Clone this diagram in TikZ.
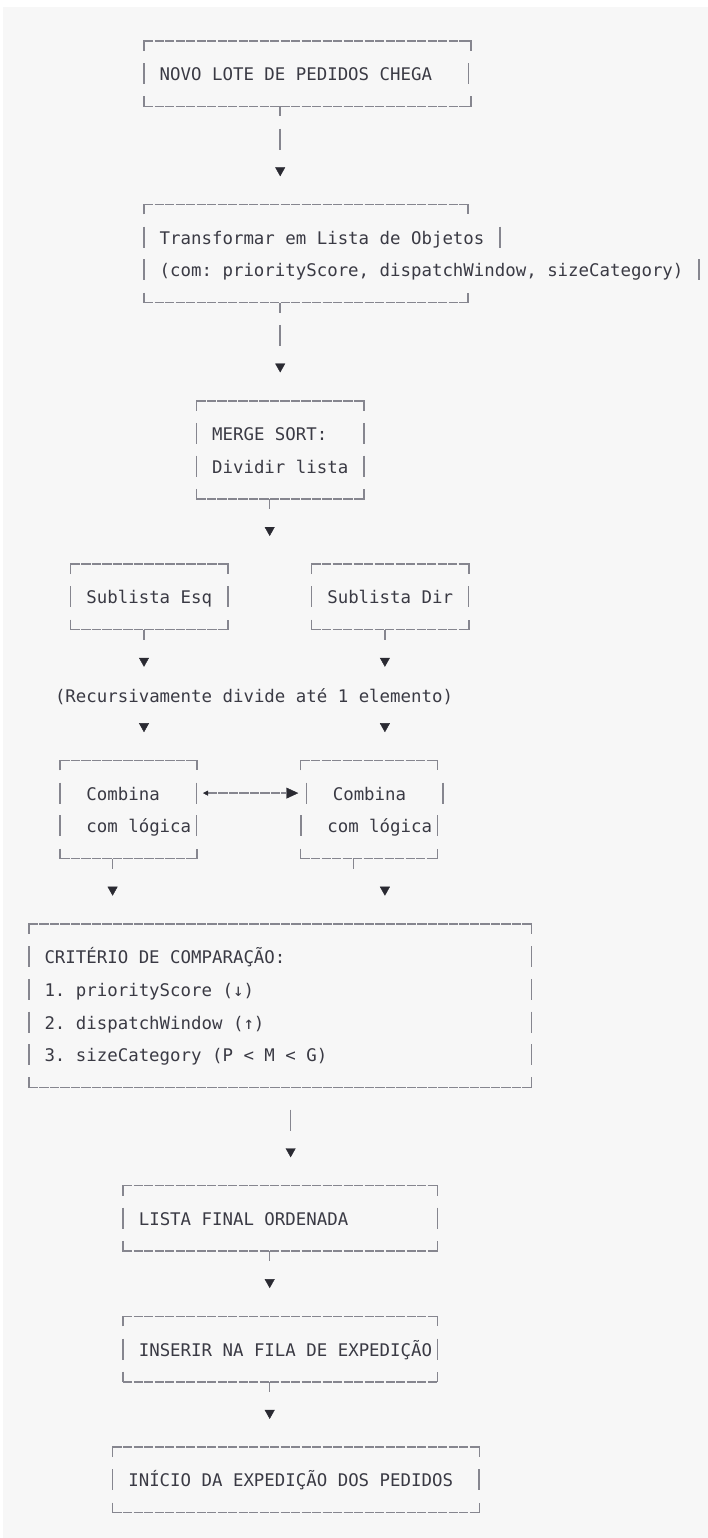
\documentclass[tikz,border=0pt]{standalone}
\usepackage{fontspec}
\setmonofont{DejaVu Sans Mono}
\usetikzlibrary{arrows.meta,fit}
\definecolor{bg}{HTML}{F7F7F7}
\definecolor{linec}{HTML}{86868F}
\definecolor{txtc}{HTML}{3A3A44}
\definecolor{tipc}{HTML}{2A2A32}
\newcommand\rowy[1]{41+32.7*#1}
\tikzset{
  frame/.style={inner sep=0pt, outer sep=0pt},
  txt/.style={anchor=west, inner sep=0pt, outer sep=0pt, text height=17pt, text depth=3pt,
    font=\ttfamily\fontsize{17.4pt}{20pt}\selectfont, text=txtc},
  hline/.style={draw=linec, line width=1.6pt, dash pattern=on 9.3pt off 1.2pt},
  vline/.style={draw=linec, line width=1.5pt},
  conn/.style={draw=linec, line width=1.5pt,
    arrows={-Triangle[length=9pt,width=10pt,line width=0.4pt,color=tipc,fill=tipc]},
    shorten >=28.2pt},
  tickbar/.style={dash pattern=on 10pt off 12.2pt on 21pt off 1000pt},
  tickonly/.style={dash pattern=on 10pt off 1000pt},
  baronly/.style={dash pattern=on 0pt off 22.2pt on 21pt off 1000pt},
  noline/.style={dash pattern=on 0pt off 1000pt},
  dbl/.style={draw=linec, line width=1.5pt, dash pattern=on 9.3pt off 1.2pt,
    arrows={Triangle[length=5pt,width=5pt,line width=0.4pt,color=tipc,fill=tipc]-Triangle[length=12pt,width=11pt,line width=0.4pt,color=tipc,fill=tipc]},
    shorten <=6pt, shorten >=2.2pt},
}
\newcommand\asciibox[1]{%
  \draw[hline] (#1.north west) -- (#1.north east);
  \draw[hline] (#1.south west) -- (#1.south east);
  \draw[vline] ([yshift=-10pt]#1.north west) -- (#1.north west) -- ([xshift=5pt]#1.north west);
  \draw[vline] ([xshift=-5pt]#1.north east) -- (#1.north east) -- ([yshift=-10pt]#1.north east);
  \draw[vline] ([yshift=10pt]#1.south west) -- (#1.south west) -- ([xshift=5pt]#1.south west);
  \draw[vline] ([xshift=-5pt]#1.south east) -- (#1.south east) -- ([yshift=10pt]#1.south east);
}
\newcommand\vb[2]{\draw[vline] (#1,\rowy{#2}) ++(0,-10.5) -- ++(0,21);}
\begin{document}
\begin{tikzpicture}[x=1pt,y=-1pt]
\useasboundingbox (0,0) rectangle (708,1538);
\fill[white] (0,0) rectangle (708,1538);
\fill[bg] (3,7) rectangle (708,1538);

% column positions of connectors
\coordinate (colA) at (280.2,0);
\coordinate (colB) at (269.7,0);
\coordinate (colC) at (290.65,0);
\coordinate (colL) at (144,0);
\coordinate (colR) at (384.9,0);
\coordinate (colE) at (112.6,0);
\coordinate (colT) at (353.5,0);
\coordinate (split) at (269.7,\rowy{16});

% box frames
\node[frame, fit={(144,\rowy{0}) (471,\rowy{2})}] (b1) {};
\node[frame, fit={(144,\rowy{5}) (468,\rowy{8})}] (b2) {};
\node[frame, fit={(196.4,\rowy{11}) (364,\rowy{14})}] (b3) {};
\node[frame, fit={(70.7,\rowy{16}) (227.8,\rowy{18})}] (b4) {};
\node[frame, fit={(311.6,\rowy{16}) (469,\rowy{18})}] (b5) {};
\node[frame, fit={(60.2,\rowy{22}) (197,\rowy{25})}] (b6) {};
\node[frame, fit={(300.5,\rowy{22}) (437.7,\rowy{25})}] (b7) {};
\node[frame, fit={(28.8,\rowy{27}) (531.6,\rowy{32})}] (b8) {};
\node[frame, fit={(123,\rowy{35}) (437.7,\rowy{37})}] (b9) {};
\node[frame, fit={(123,\rowy{39}) (437.7,\rowy{41})}] (b10) {};
\node[frame, fit={(112.6,\rowy{43}) (479.3,\rowy{45})}] (b11) {};

\asciibox{b1}\asciibox{b2}\asciibox{b3}\asciibox{b4}\asciibox{b5}\asciibox{b6}
\asciibox{b7}\asciibox{b8}\asciibox{b9}\asciibox{b10}\asciibox{b11}

% side bars
\vb{144}{1}\vb{468.7}{1}
\vb{144}{6}\vb{500.2}{6}
\vb{144}{7}\vb{699.2}{7}
\vb{196.4}{12}\vb{364}{12}
\vb{196.4}{13}\vb{364}{13}
\vb{70.7}{17}\vb{227.8}{17}
\vb{311.6}{17}\vb{468.7}{17}
\vb{60.2}{23}\vb{196.4}{23}
\vb{60.2}{24}\vb{196.4}{24}
\vb{306.6}{23}\vb{442.8}{23}
\vb{301.1}{24}\vb{437.3}{24}
\vb{28.8}{28}\vb{531.6}{28}
\vb{28.8}{29}\vb{531.6}{29}
\vb{28.8}{30}\vb{531.6}{30}
\vb{28.8}{31}\vb{531.6}{31}
\vb{123}{36}\vb{437.3}{36}
\vb{123}{40}\vb{437.3}{40}
\vb{112.6}{44}\vb{479.2}{44}

% texts
\node[txt] (t1) at (159.7,\rowy{1}) {NOVO LOTE DE PEDIDOS CHEGA};
\node[txt] (t2a) at (159.7,\rowy{6}) {Transformar em Lista de Objetos};
\node[txt] (t2b) at (159.7,\rowy{7}) {(com: priorityScore, dispatchWindow, sizeCategory)};
\node[txt] (t3a) at (212.1,\rowy{12}) {MERGE SORT:};
\node[txt] (t3b) at (212.1,\rowy{13}) {Dividir lista};
\node[txt] (t4) at (86.4,\rowy{17}) {Sublista Esq};
\node[txt] (t5) at (327.3,\rowy{17}) {Sublista Dir};
\node[txt] (rec) at (55.0,\rowy{20}) {(Recursivamente divide até 1 elemento)};
\node[txt] (t6a) at (86.4,\rowy{23}) {Combina};
\node[txt] (t6b) at (86.4,\rowy{24}) {com lógica};
\node[txt] (t7a) at (332.8,\rowy{23}) {Combina};
\node[txt] (t7b) at (327.3,\rowy{24}) {com lógica};
\node[txt] (t8a) at (44.5,\rowy{28}) {CRITÉRIO DE COMPARAÇÃO:};
\node[txt] (t8b) at (44.5,\rowy{29}) {1. priorityScore (↓)};
\node[txt] (t8c) at (44.5,\rowy{30}) {2. dispatchWindow (↑)};
\node[txt] (t8d) at (44.5,\rowy{31}) {3. sizeCategory (P < M < G)};
\node[txt] (t9) at (138.8,\rowy{36}) {LISTA FINAL ORDENADA};
\node[txt] (t10) at (138.8,\rowy{40}) {INSERIR NA FILA DE EXPEDIÇÃO};
\node[txt] (t11) at (128.3,\rowy{44}) {INÍCIO DA EXPEDIÇÃO DOS PEDIDOS};

% connectors
\draw[conn, tickbar] (b1.south -| colA) -- (b2.north -| colA);
\draw[conn, tickbar] (b2.south -| colA) -- (b3.north -| colA);
\draw[conn, tickonly] (b3.south -| colB) -- (split);
\draw[conn, tickonly, shorten >=18.2pt] (b4.south -| colL) -- (rec.north -| colL);
\draw[conn, tickonly, shorten >=18.2pt] (b5.south -| colR) -- (rec.north -| colR);
\draw[conn, noline] (rec.south -| colL) -- (b6.north -| colL);
\draw[conn, noline] (rec.south -| colR) -- (b7.north -| colR);
\draw[dbl] (b6.east |- t6a.west) -- (b7.west |- t6a.west);
\draw[conn, tickonly] (b6.south -| colE) -- (b8.north -| colE);
\draw[conn, tickonly] (b7.south -| colT) -- ++(0,10) -| (b8.north -| colR);
\draw[conn, baronly] (b8.south -| colC) -- (b9.north -| colC);
\draw[conn, tickonly] (b9.south -| colB) -- (b10.north -| colB);
\draw[conn, tickonly] (b10.south -| colB) -- (b11.north -| colB);
\end{tikzpicture}
\end{document}
